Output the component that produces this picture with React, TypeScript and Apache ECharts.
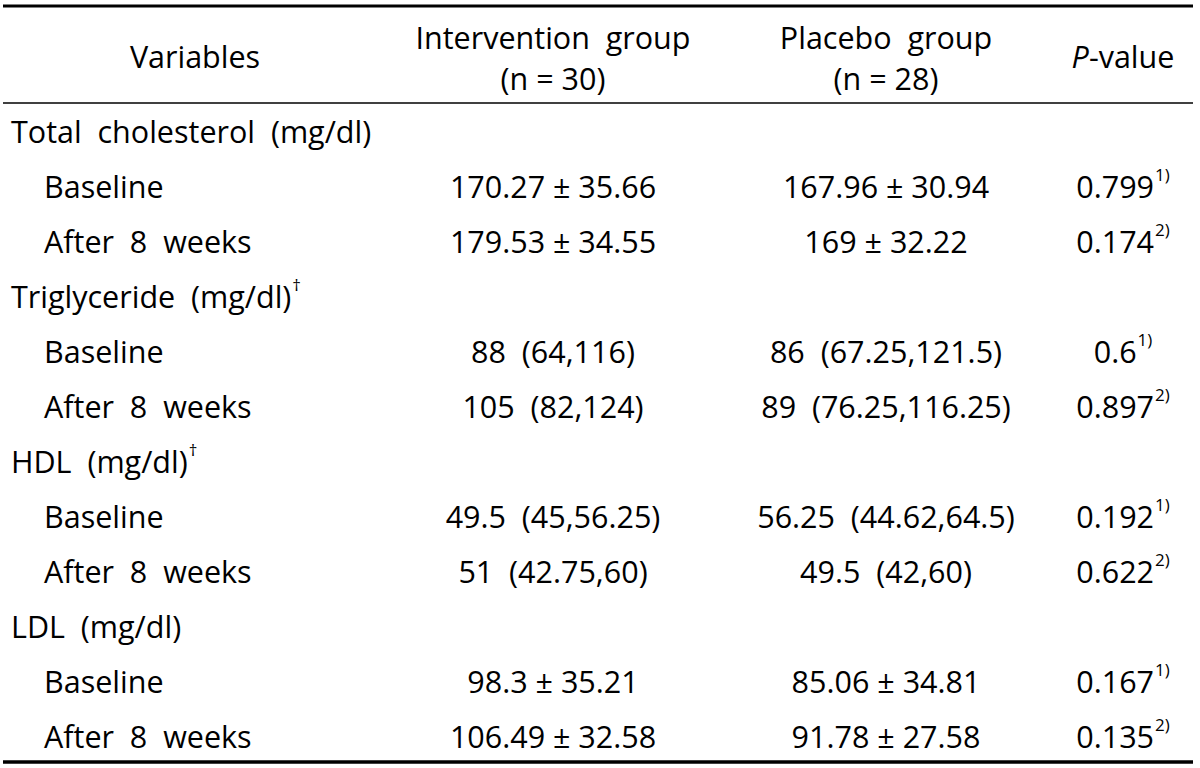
import React, { useEffect, useRef } from "react";
import * as echarts from "echarts";

const W = 1200;
const H = 768;
const FONT = "'Open Sans', 'Noto Sans', sans-serif";
const FS = 30.5;
const INK = "#000";

const headerCols = ["Variables", "Intervention  group", "Placebo  group", "P-value"];
const headerSub = ["", "(n = 30)", "(n = 28)", ""];

const rowLabels = [
  "Total  cholesterol  (mg/dl)",
  "Baseline",
  "After  8  weeks",
  "Triglyceride  (mg/dl)",
  "Baseline",
  "After  8  weeks",
  "HDL  (mg/dl)",
  "Baseline",
  "After  8  weeks",
  "LDL  (mg/dl)",
  "Baseline",
  "After  8  weeks",
];
const rowLevel = [0, 1, 1, 0, 1, 1, 0, 1, 1, 0, 1, 1];
const labelMarks = ["", "", "", "†", "", "", "†", "", "", "", "", ""];

const interventionValues = [
  "", "170.27 ± 35.66", "179.53 ± 34.55",
  "", "88  (64,116)", "105  (82,124)",
  "", "49.5  (45,56.25)", "51  (42.75,60)",
  "", "98.3 ± 35.21", "106.49 ± 32.58",
];
const placeboValues = [
  "", "167.96 ± 30.94", "169 ± 32.22",
  "", "86  (67.25,121.5)", "89  (76.25,116.25)",
  "", "56.25  (44.62,64.5)", "49.5  (42,60)",
  "", "85.06 ± 34.81", "91.78 ± 27.58",
];
const pValues = ["", "0.799", "0.174", "", "0.6", "0.897", "", "0.192", "0.622", "", "0.167", "0.135"];
const pNotes = ["", "1)", "2)", "", "1)", "2)", "", "1)", "2)", "", "1)", "2)"];

const colX = [195, 553, 886, 1123];
const rowY0 = 131;
const rowStep = 55;

const rich = {
  m: { fontSize: FS, fontFamily: FONT, fill: INK, lineHeight: 40 },
  i: { fontSize: FS, fontFamily: FONT, fontStyle: "italic", fill: INK, lineHeight: 40 },
  s: { fontSize: 17, fontFamily: FONT, fill: INK, lineHeight: 38, verticalAlign: "top", padding: [0, 0, 0, 1] },
};

function txt(x: number, y: number, text: string, align: string) {
  return {
    type: "text",
    x,
    y,
    style: {
      text,
      fontSize: FS,
      fontFamily: FONT,
      fill: INK,
      align,
      textAlign: align,
      verticalAlign: "middle",
      textVerticalAlign: "middle",
      rich,
    },
  };
}

export default function App() {
  const ref = useRef<HTMLDivElement>(null);
  useEffect(() => {
    const chart = echarts.init(ref.current!, null, { renderer: "svg" });
    const els: any[] = [];
    els.push({ type: "line", shape: { x1: 3, y1: 6, x2: 1193, y2: 6 }, style: { stroke: INK, lineWidth: 3 } });
    els.push({ type: "line", shape: { x1: 3, y1: 103, x2: 1193, y2: 103 }, style: { stroke: INK, lineWidth: 1.5 } });
    els.push({ type: "line", shape: { x1: 3, y1: 762, x2: 1193, y2: 762 }, style: { stroke: INK, lineWidth: 3.5 } });

    // header
    els.push(txt(colX[0], 56, "{m|" + headerCols[0] + "}", "center"));
    els.push(txt(colX[1], 37, "{m|" + headerCols[1] + "}", "center"));
    els.push(txt(colX[1], 78, "{m|" + headerSub[1] + "}", "center"));
    els.push(txt(colX[2], 37, "{m|" + headerCols[2] + "}", "center"));
    els.push(txt(colX[2], 78, "{m|" + headerSub[2] + "}", "center"));
    els.push(txt(colX[3], 56, "{i|P}{m|-value}", "center"));

    rowLabels.forEach((lab, r) => {
      const y = rowY0 + r * rowStep;
      const x = rowLevel[r] === 0 ? 11 : 44;
      const mark = labelMarks[r] ? "{s|" + labelMarks[r] + "}" : "";
      els.push(txt(x, y, "{m|" + lab + "}" + mark, "left"));
      if (interventionValues[r]) els.push(txt(colX[1], y, "{m|" + interventionValues[r] + "}", "center"));
      if (placeboValues[r]) els.push(txt(colX[2], y, "{m|" + placeboValues[r] + "}", "center"));
      if (pValues[r]) els.push(txt(colX[3], y, "{m|" + pValues[r] + "}{s|" + pNotes[r] + "}", "center"));
    });

    chart.setOption({ animation: false, graphic: { elements: els } });
    return () => chart.dispose();
  }, []);
  return (
    <div
      ref={ref}
      style={{ position: "fixed", left: 0, top: 0, width: W, height: H, background: "#fff" }}
    />
  );
}
